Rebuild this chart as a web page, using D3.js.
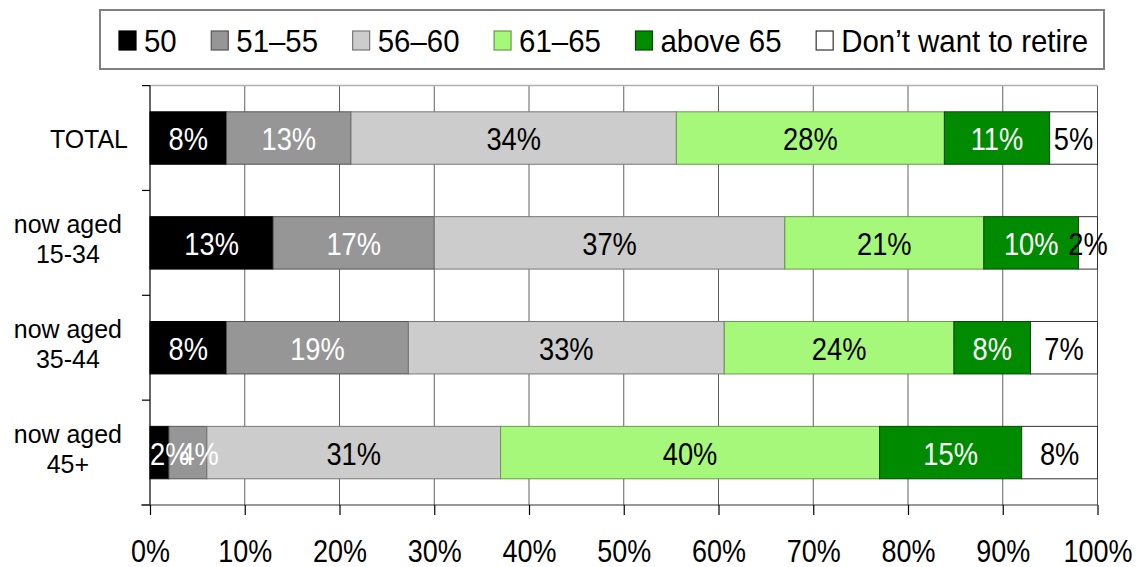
<!DOCTYPE html>
<html><head><meta charset="utf-8">
<script src="https://cdn.jsdelivr.net/npm/d3@7"></script>
<style>
body{margin:0;background:#fff;}
svg{display:block;font-family:"Liberation Sans",Arial,sans-serif;}
</style></head>
<body><svg id="chart" width="1141" height="567"></svg>
<script>
const categories = ["TOTAL", "now aged\n15-34", "now aged\n35-44", "now aged\n45+"];
const seriesNames = ["50", "51–55", "56–60", "61–65", "above 65", "Don’t want to retire"];
const v50      = [8, 13, 8, 2];
const v51_55   = [13, 17, 19, 4];
const v56_60   = [34, 37, 33, 31];
const v61_65   = [28, 21, 24, 40];
const vAbove65 = [11, 10, 8, 15];
const vNoRetire= [5, 2, 7, 8];
const xTicks = [0, 0.1, 0.2, 0.3, 0.4, 0.5, 0.6, 0.7, 0.8, 0.9, 1.0];

const colors = ["#000000", "#969696", "#cccccc", "#a6f87a", "#008a00", "#ffffff"];
const strokeCols = ["#000000", "#555555", "#777777", "#6a9a4a", "#004a00", "#333333"];
const labelCols = ["#ffffff", "#ffffff", "#000000", "#000000", "#ffffff", "#000000"];

const seriesVals = [v50, v51_55, v56_60, v61_65, vAbove65, vNoRetire];
const rows = categories.map((c, i) => {
  const o = {cat: c};
  seriesNames.forEach((s, j) => o[s] = seriesVals[j][i]);
  return o;
});

const svg = d3.select("#chart");
const FONT = '"Liberation Sans",Arial,sans-serif';
const pLeft = 150, pRight = 1097.5, pTop = 85.6, pBottom = 505;

const x = d3.scaleLinear().domain([0, 1]).range([pLeft, pRight]);
const y = d3.scaleBand().domain(categories).range([pTop, pBottom]).paddingInner(0.5).paddingOuter(0.25);

const stack = d3.stack().keys(seriesNames).offset(d3.stackOffsetExpand);
const stacked = stack(rows);

// gridlines
svg.append("g").selectAll("line").data(xTicks.slice(1)).join("line")
  .attr("x1", d => x(d)).attr("x2", d => x(d))
  .attr("y1", pTop).attr("y2", pBottom)
  .attr("stroke", "#606060").attr("stroke-width", 1);
// top border
svg.append("line").attr("x1", pLeft).attr("x2", pRight).attr("y1", pTop).attr("y2", pTop)
  .attr("stroke", "#b0b0b0").attr("stroke-width", 1.5);

// bars
const g = svg.append("g");
stacked.forEach((layer, j) => {
  g.append("g").selectAll("rect").data(layer).join("rect")
    .attr("x", d => x(d[0])).attr("width", d => x(d[1]) - x(d[0]))
    .attr("y", d => y(d.data.cat)).attr("height", y.bandwidth())
    .attr("fill", colors[j]).attr("stroke", strokeCols[j]).attr("stroke-width", 1);
});

// bar labels
function scaledText(sel, px, py, sx) {
  return sel.attr("x", 0).attr("y", 0).attr("transform", `translate(${px},${py}) scale(${sx},1)`);
}
const LBL_SX = 0.88, LBL_FS = 31;
categories.forEach((c, i) => {
  let prevRight = -Infinity;
  stacked.forEach((layer, j) => {
    const d = layer[i];
    const val = d.data[seriesNames[j]];
    const t = svg.append("text").text(val + "%")
      .attr("font-size", LBL_FS).attr("fill", labelCols[j]).attr("text-anchor", "middle")
      .style("font-family", FONT);
    const w = t.node().getComputedTextLength() * LBL_SX;
    let cx = (x(d[0]) + x(d[1])) / 2;
    cx = Math.max(cx, x(0) + w / 2);
    // small nudge when a label would sit mostly on top of the previous one
    if (cx - w / 2 < prevRight - 10) cx = prevRight - 10 + w / 2;
    prevRight = cx + w / 2;
    scaledText(t, cx, y(d.data.cat) + y.bandwidth() / 2 + 12, LBL_SX);
  });
});

// left axis line + ticks
svg.append("line").attr("x1", pLeft).attr("x2", pLeft).attr("y1", pTop).attr("y2", pBottom)
  .attr("stroke", "#000").attr("stroke-width", 1.2);
const bounds = d3.range(categories.length + 1).map(i => pTop + i * y.step());
svg.append("g").selectAll("line").data(bounds).join("line")
  .attr("x1", pLeft - 8).attr("x2", pLeft).attr("y1", d => d).attr("y2", d => d)
  .attr("stroke", "#000").attr("stroke-width", 1.2);

// category labels
const CAT_FS = 26, CAT_SX = 0.96;
categories.forEach(c => {
  const lines = c.split("\n");
  const cy = y(c) + y.bandwidth() / 2;
  const n = lines.length;
  const texts = lines.map(l => svg.append("text").text(l).attr("font-size", CAT_FS)
    .attr("fill", "#000").style("font-family", FONT).attr("text-anchor", "middle"));
  const maxW = d3.max(texts, t => t.node().getComputedTextLength() * CAT_SX);
  const rightEdge = n > 1 ? 122 : 128;
  const centerX = rightEdge - maxW / 2;
  texts.forEach((t, i) => {
    const by = cy + 10 - (n - 1) * 20 + i * 30;
    scaledText(t, centerX, by, CAT_SX);
  });
});

// bottom axis
const TICK_SX = 0.87, TICK_FS = 31;
const xAxis = d3.axisBottom(x).tickValues(xTicks).tickFormat(d3.format(".0%")).tickSize(10).tickSizeOuter(0);
const ax = svg.append("g").attr("transform", `translate(0,${pBottom})`).call(xAxis);
ax.select(".domain").attr("stroke", "#333").attr("stroke-width", 1.2).attr("d", `M${pLeft - 9},0H${pRight}`);
ax.selectAll(".tick line").attr("stroke", "#000").attr("stroke-width", 1.2);
ax.selectAll(".tick text").attr("font-size", TICK_FS).attr("fill", "#000").style("font-family", FONT)
  .attr("y", 0).attr("dy", 0).attr("transform", `translate(0,57) scale(${TICK_SX},1)`);

// legend
svg.append("rect").attr("x", 100).attr("y", 10).attr("width", 1004).attr("height", 59)
  .attr("fill", "#fff").attr("stroke", "#808080").attr("stroke-width", 2);
const LEG_FS = 31, LEG_SX = 0.95;
let lx = 119;
seriesNames.forEach((s, j) => {
  svg.append("rect").attr("x", lx).attr("y", 31).attr("width", 17).attr("height", 19)
    .attr("fill", colors[j]).attr("stroke", strokeCols[j] === "#ffffff" ? "#333" : strokeCols[j]).attr("stroke-width", 1.2);
  const t = svg.append("text").text(s).attr("font-size", LEG_FS).attr("fill", "#000").style("font-family", FONT);
  const w = t.node().getComputedTextLength() * LEG_SX;
  scaledText(t, lx + 25, 52, LEG_SX);
  lx += 25 + w + 34.5;
});
</script></body></html>
